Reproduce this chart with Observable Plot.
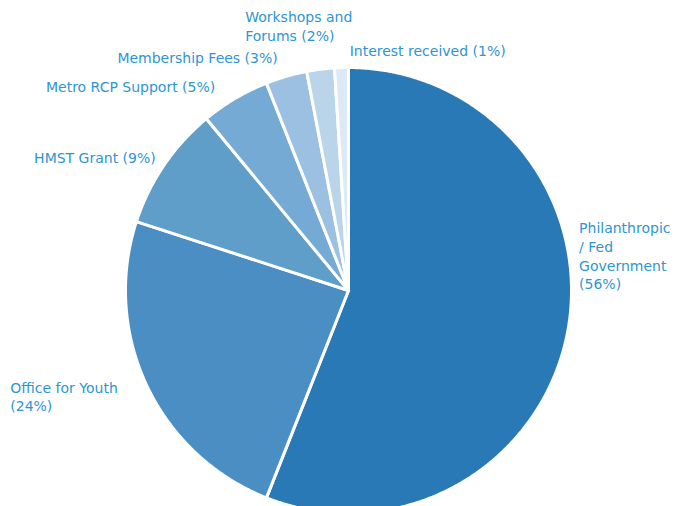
<!DOCTYPE html>
<html><head><meta charset="utf-8">
<script src="https://cdn.jsdelivr.net/npm/d3@7"></script>
<script src="https://cdn.jsdelivr.net/npm/@observablehq/plot@0.6"></script>
<style>body{margin:0;background:#fff}</style>
</head><body><div id="chart"></div>
<script>
// ---- data ----
const categories = ["Philanthropic / Fed Government", "Office for Youth", "HMST Grant", "Metro RCP Support", "Membership Fees", "Workshops and Forums", "Interest received"];
const shares = [56, 24, 9, 5, 3, 2, 1];
const labelTexts = ["Philanthropic\n/ Fed\nGovernment\n(56%)", "Office for Youth\n(24%)", "HMST Grant (9%)", "Metro RCP Support (5%)", "Membership Fees (3%)", "Workshops and\nForums (2%)", "Interest received (1%)"];
const colors = ["#2979b6", "#4a8ec3", "#5e9ec9", "#74aad3", "#9bc0e1", "#bad5ea", "#dde9f5"];

// ---- layout (pixels) ----
const W = 689, H = 506;
const cx = 348, cy = 290, r = 223, rLabel = 250;
const labelLayout = {
  "Philanthropic / Fed Government": {anchor: "start", dx: -15, dy: -82},
  "Office for Youth": {anchor: "start", dx: -112, dy: -1},
  "HMST Grant": {anchor: "end", dx: 14, dy: 7},
  "Metro RCP Support": {anchor: "end", dx: -6, dy: 11},
  "Membership Fees": {anchor: "end", dx: -1, dy: 7},
  "Workshops and Forums": {anchor: "start", dx: -72, dy: -17},
  "Interest received": {anchor: "start", dx: 9, dy: 9}
};

const arcs = d3.pie().sort(null).value(d => d)(shares);
const pt = (a, rad) => [cx + rad * Math.sin(a), cy - rad * Math.cos(a)];

const slices = arcs.map((a, i) => {
  const n = Math.max(2, Math.ceil((a.endAngle - a.startAngle) / (Math.PI / 360)));
  const ring = [[cx, cy]];
  for (let k = 0; k <= n; k++) ring.push(pt(a.startAngle + (a.endAngle - a.startAngle) * k / n, r));
  ring.push([cx, cy]);
  return {type: "Feature", properties: {category: categories[i]}, geometry: {type: "Polygon", coordinates: [ring]}};
});

const labelRows = arcs.map((a, i) => {
  const mid = (a.startAngle + a.endAngle) / 2;
  const [x, y] = pt(mid, rLabel);
  const L = labelLayout[categories[i]];
  return {category: categories[i], label: labelTexts[i], x: x + L.dx, y: y + L.dy, anchor: L.anchor};
});

const textOpts = {x: "x", y: "y", text: "label", lineAnchor: "middle", fill: "#2e95d3", fontSize: 14, lineHeight: 1.34};

const chart = Plot.plot({
  width: W, height: H,
  margin: 0,
  projection: d3.geoIdentity(),
  style: {fontFamily: "'DejaVu Sans', sans-serif", background: "#fff"},
  color: {type: "ordinal", domain: categories, range: colors},
  marks: [
    Plot.geo(slices, {fill: d => d.properties.category, stroke: "white", strokeWidth: 3, strokeLinejoin: "round"}),
    Plot.text(labelRows.filter(d => d.anchor === "start"), {...textOpts, textAnchor: "start"}),
    Plot.text(labelRows.filter(d => d.anchor === "end"), {...textOpts, textAnchor: "end"})
  ]
});
document.getElementById("chart").appendChild(chart);
</script>
</body></html>
